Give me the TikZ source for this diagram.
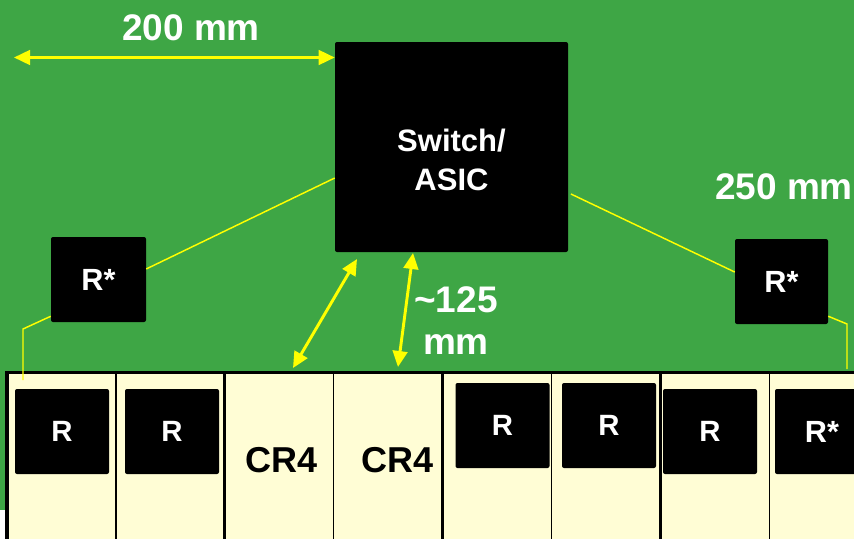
\documentclass[tikz,border=0pt]{standalone}
\usepackage{fontspec}
\setmainfont{Liberation Sans}
\usetikzlibrary{arrows.meta,positioning}
\definecolor{boardgreen}{RGB}{62,166,69}
\definecolor{cardcream}{RGB}{255,253,213}
\definecolor{linkyellow}{RGB}{255,255,0}

\begin{document}
\begin{tikzpicture}[
  x=0.75pt, y=-0.75pt,
  chip/.style={fill=black, rounded corners=1.5pt, text=white, inner sep=0pt, align=center,
    minimum width=70.5pt, minimum height=63.75pt, font=\fontsize{22}{26}\selectfont\bfseries},
  cell/.style={draw=black, line width=1.1pt, fill=cardcream, minimum width=81.7pt, minimum height=130pt, inner sep=0pt},
  dimlabel/.style={text=white, align=center, font=\fontsize{27.75}{31.5}\selectfont\bfseries},
  cardlabel/.style={text=black, font=\fontsize{27}{32}\selectfont\bfseries},
  trace/.style={draw=linkyellow, line width=1.1pt},
  dimarrow/.style={draw=linkyellow, line width=2.2pt, {Triangle[length=12pt,width=11pt]}-{Triangle[length=12pt,width=11pt]}}
]
  \useasboundingbox (0,0) rectangle (854,539);
  \clip (0,0) rectangle (854,539);
  \fill[white] (0,0) rectangle (854,539);
  \fill[boardgreen] (0,0) rectangle (854,510);

  % card row
  \foreach \i in {0,...,7}
    \node[cell] (c\i) at ({7+(\i+0.5)*108.9}, 459) {};
  \draw[line width=2.4pt] (7,545) -- (7,372.5) -- (860,372.5);
  \foreach \i in {2,4,6}
    \draw[line width=2.2pt] ({7+\i*108.9},372.5) -- ({7+\i*108.9},545);

  % switch and retimers
  \node[chip, minimum width=174.75pt, minimum height=157.5pt] (sw) at (451.5,147) {};
  \node[chip, text=white, font=\fontsize{23.25}{29}\selectfont\bfseries] at ([yshift=-9.75pt]sw.center) {Switch/\\ASIC};
  \node[chip, minimum width=71.25pt, font=\fontsize{23}{27}\selectfont\bfseries] (rl) at (98.5,279.5) {R*};
  \node[chip, minimum width=69.75pt, font=\fontsize{23}{27}\selectfont\bfseries] (rr) at (781.5,281.5) {R*};

  \node[chip] (r1) at (62,431.5) {R};
  \node[chip] (r2) at (172,431.5) {R};
  \node[cardlabel] (cr3) at (282,460) {CR4};
  \node[cardlabel] (cr4) at (398,460) {CR4};
  \node[chip] (r5) at (502.5,425.5) {R};
  \node[chip] (r6) at (609,425.5) {R};
  \node[chip] (r7) at (710,431.5) {R};
  \node[chip, font=\fontsize{23}{27}\selectfont\bfseries] (r8) at (822,431.5) {R*};

  % traces
  \coordinate (tl) at (23,380);
  \coordinate (tr) at (847,369);
  \draw[trace] ([yshift=-23.25pt]sw.west) -- ([yshift=7.9pt]rl.east);
  \draw[trace] ([yshift=4.5pt]rl.south west) -- (tl |- 0,329) -- (tl);
  \draw[trace] ([xshift=2pt,yshift=-35.25pt]sw.east) -- ([yshift=7.1pt]rr.west);
  \draw[trace] ([yshift=6pt]rr.south east) -- (tr |- 0,324) -- (tr);

  % dimensions
  \coordinate (dl) at (14,57.5);
  \coordinate (ad1) at (293,368);
  \coordinate (au1) at (357,259);
  \coordinate (ad2) at (398,367);
  \coordinate (au2) at (413,253);
  \draw[dimarrow, line width=1.9pt] (dl) -- (dl -| sw.west);
  \draw[dimarrow] (ad1) -- (au1);
  \draw[dimarrow] (ad2) -- (au2);

  \node[dimlabel] (w200) at (191,28) {200 mm};
  \node[dimlabel] (w250) at (784,187) {250 mm};
  \node[dimlabel] (h125) at (456,321) {\textasciitilde125\\mm};
\end{tikzpicture}
\end{document}
